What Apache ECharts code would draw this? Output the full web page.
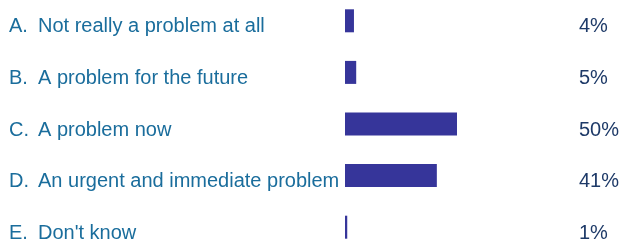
<!DOCTYPE html>
<html>
<head>
<meta charset="utf-8">
<style type="text/css">
html, body {margin: 0; padding: 0; background: #fff;}
#chart {width: 620px; height: 244px;}
</style>
<script src="https://cdn.jsdelivr.net/npm/echarts@6/dist/echarts.min.js"></script>
</head>
<body>
<div id="chart"></div>
<script>
var letters = ['A.', 'B.', 'C.', 'D.', 'E.'];
var answers = ['Not really a problem at all', 'A problem for the future', 'A problem now', 'An urgent and immediate problem', "Don't know"];
var percents = [4, 5, 50, 41, 1];

var myChart = echarts.init(document.getElementById('chart'), null, {renderer: 'canvas'});
var options = {
    animation: false,
    grid: {left: 345, top: -5, width: 224, height: 258, outerBoundsMode: 'none'},
    xAxis: {
        type: 'value',
        min: 0,
        max: 100,
        show: false
    },
    yAxis: [{
        type: 'category',
        inverse: true,
        data: answers,
        axisLine: {show: false},
        axisTick: {show: false},
        axisLabel: {
            margin: 336,
            align: 'left',
            verticalAlign: 'top',
            lineHeight: 12,
            formatter: function (v, i) {
                return '{l|' + letters[i] + '}{t|' + v + '}';
            },
            rich: {
                l: {width: 29, fontSize: 20, lineHeight: 12, fontFamily: 'Liberation Sans', color: '#1a6d9c'},
                t: {fontSize: 20, lineHeight: 12, fontFamily: 'Liberation Sans', color: '#1a6d9c'}
            }
        }
    }, {
        type: 'category',
        inverse: true,
        position: 'right',
        data: answers,
        axisLine: {show: false},
        axisTick: {show: false},
        axisLabel: {
            margin: 10,
            align: 'left',
            verticalAlign: 'top',
            lineHeight: 12,
            fontSize: 20,
            fontFamily: 'Liberation Sans',
            color: '#1e3a68',
            formatter: function (v, i) {
                return percents[i] + '%';
            }
        }
    }],
    series: [{
        type: 'bar',
        barWidth: 23,
        itemStyle: {color: '#36359a'},
        data: percents
    }]
};
myChart.setOption(options);
</script>
</body>
</html>
